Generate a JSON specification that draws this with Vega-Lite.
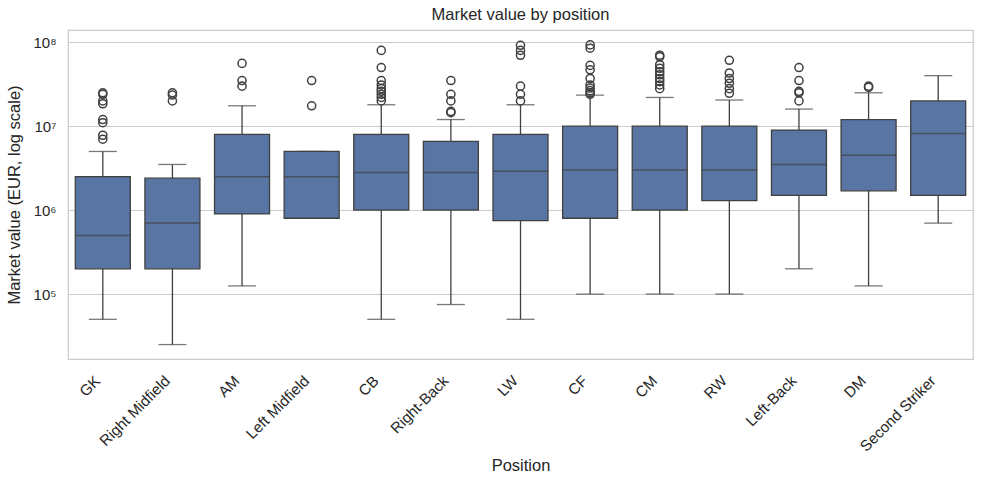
{
  "$schema": "https://vega.github.io/schema/vega-lite/v6.json",
  "autosize": {"type": "none"},
  "padding": {"left": 68, "top": 30, "right": 11, "bottom": 125},
  "width": 905,
  "height": 329,
  "title": {
    "text": "Market value by position",
    "fontSize": 16.5,
    "fontWeight": "normal",
    "color": "#262626",
    "offset": 7
  },
  "datasets": {
    "stats": [
      {"position": "GK", "lower": 50000, "q1": 200000, "median": 500000, "q3": 2500000, "upper": 5000000},
      {"position": "Right Midfield", "lower": 25000, "q1": 200000, "median": 700000, "q3": 2400000, "upper": 3500000},
      {"position": "AM", "lower": 125000, "q1": 900000, "median": 2500000, "q3": 8000000, "upper": 17500000},
      {"position": "Left Midfield", "lower": 800000, "q1": 800000, "median": 2500000, "q3": 5000000, "upper": 5000000},
      {"position": "CB", "lower": 50000, "q1": 1000000, "median": 2800000, "q3": 8000000, "upper": 18000000},
      {"position": "Right-Back", "lower": 75000, "q1": 1000000, "median": 2800000, "q3": 6600000, "upper": 12000000},
      {"position": "LW", "lower": 50000, "q1": 750000, "median": 2900000, "q3": 8000000, "upper": 18000000},
      {"position": "CF", "lower": 100000, "q1": 800000, "median": 3000000, "q3": 10000000, "upper": 23500000},
      {"position": "CM", "lower": 100000, "q1": 1000000, "median": 3000000, "q3": 10000000, "upper": 22000000},
      {"position": "RW", "lower": 100000, "q1": 1300000, "median": 3000000, "q3": 10000000, "upper": 20500000},
      {"position": "Left-Back", "lower": 200000, "q1": 1500000, "median": 3500000, "q3": 9000000, "upper": 16000000},
      {"position": "DM", "lower": 125000, "q1": 1700000, "median": 4500000, "q3": 12000000, "upper": 25000000},
      {"position": "Second Striker", "lower": 700000, "q1": 1500000, "median": 8200000, "q3": 20000000, "upper": 40000000}
    ],
    "outliers": [
      {"position": "GK", "value": 25000000},
      {"position": "GK", "value": 24000000},
      {"position": "GK", "value": 20000000},
      {"position": "GK", "value": 18500000},
      {"position": "GK", "value": 12000000},
      {"position": "GK", "value": 11000000},
      {"position": "GK", "value": 7800000},
      {"position": "GK", "value": 7000000},
      {"position": "Right Midfield", "value": 25000000},
      {"position": "Right Midfield", "value": 23500000},
      {"position": "Right Midfield", "value": 20000000},
      {"position": "AM", "value": 56000000},
      {"position": "AM", "value": 35000000},
      {"position": "AM", "value": 30000000},
      {"position": "Left Midfield", "value": 35000000},
      {"position": "Left Midfield", "value": 17500000},
      {"position": "CB", "value": 80000000},
      {"position": "CB", "value": 50000000},
      {"position": "CB", "value": 35000000},
      {"position": "CB", "value": 31000000},
      {"position": "CB", "value": 28000000},
      {"position": "CB", "value": 26000000},
      {"position": "CB", "value": 24000000},
      {"position": "CB", "value": 22000000},
      {"position": "CB", "value": 20000000},
      {"position": "Right-Back", "value": 35000000},
      {"position": "Right-Back", "value": 24000000},
      {"position": "Right-Back", "value": 20000000},
      {"position": "Right-Back", "value": 15000000},
      {"position": "Right-Back", "value": 14500000},
      {"position": "LW", "value": 92000000},
      {"position": "LW", "value": 80000000},
      {"position": "LW", "value": 70000000},
      {"position": "LW", "value": 30000000},
      {"position": "LW", "value": 24000000},
      {"position": "LW", "value": 20000000},
      {"position": "CF", "value": 93000000},
      {"position": "CF", "value": 85000000},
      {"position": "CF", "value": 53000000},
      {"position": "CF", "value": 47000000},
      {"position": "CF", "value": 37000000},
      {"position": "CF", "value": 31000000},
      {"position": "CF", "value": 28500000},
      {"position": "CF", "value": 26500000},
      {"position": "CF", "value": 25000000},
      {"position": "CF", "value": 24000000},
      {"position": "CM", "value": 70000000},
      {"position": "CM", "value": 67000000},
      {"position": "CM", "value": 54000000},
      {"position": "CM", "value": 49000000},
      {"position": "CM", "value": 44500000},
      {"position": "CM", "value": 41000000},
      {"position": "CM", "value": 37000000},
      {"position": "CM", "value": 34000000},
      {"position": "CM", "value": 31000000},
      {"position": "CM", "value": 28000000},
      {"position": "RW", "value": 61000000},
      {"position": "RW", "value": 43000000},
      {"position": "RW", "value": 37000000},
      {"position": "RW", "value": 32500000},
      {"position": "RW", "value": 28000000},
      {"position": "RW", "value": 24700000},
      {"position": "Left-Back", "value": 50000000},
      {"position": "Left-Back", "value": 35000000},
      {"position": "Left-Back", "value": 26000000},
      {"position": "Left-Back", "value": 25000000},
      {"position": "Left-Back", "value": 20000000},
      {"position": "DM", "value": 30000000},
      {"position": "DM", "value": 29000000}
    ]
  },
  "encoding": {
    "x": {
      "field": "position",
      "type": "nominal",
      "sort": ["GK", "Right Midfield", "AM", "Left Midfield", "CB", "Right-Back", "LW", "CF", "CM", "RW", "Left-Back", "DM", "Second Striker"],
      "scale": {"paddingInner": 0, "paddingOuter": 0},
      "axis": {
        "title": "Position",
        "labelAngle": -45,
        "labelAlign": "right",
        "labelBaseline": "top",
        "labelPadding": 14,
        "labelOffset": -10,
        "labelFontSize": 15.2,
        "titlePadding": 3,
        "grid": false,
        "ticks": false,
        "domain": false
      }
    }
  },
  "layer": [
    {
      "data": {"name": "stats"},
      "mark": {"type": "rule", "color": "#404040", "strokeWidth": 1.3},
      "encoding": {
        "y": {
          "field": "lower",
          "type": "quantitative",
          "scale": {"type": "log", "domain": [16830, 140000000], "nice": false},
          "axis": {
            "title": "Market value (EUR, log scale)",
            "values": [100000, 1000000, 10000000, 100000000],
            "labelExpr": "'10' + ['⁰','¹','²','³','⁴','⁵','⁶','⁷','⁸','⁹'][round(log(datum.value) / LN10)]",
            "grid": true,
            "ticks": false,
            "domain": false,
            "labelPadding": 12,
            "titlePadding": 10
          }
        },
        "y2": {"field": "upper"}
      }
    },
    {
      "data": {"name": "stats"},
      "mark": {"type": "tick", "color": "#404040", "size": 28, "thickness": 1.3},
      "encoding": {"y": {"field": "lower", "type": "quantitative"}}
    },
    {
      "data": {"name": "stats"},
      "mark": {"type": "tick", "color": "#404040", "size": 28, "thickness": 1.3},
      "encoding": {"y": {"field": "upper", "type": "quantitative"}}
    },
    {
      "data": {"name": "stats"},
      "mark": {"type": "bar", "size": 55, "fill": "#5975a4", "stroke": "#404040", "strokeWidth": 1.3},
      "encoding": {
        "y": {"field": "q1", "type": "quantitative"},
        "y2": {"field": "q3"}
      }
    },
    {
      "data": {"name": "stats"},
      "mark": {"type": "tick", "color": "#404040", "size": 55, "thickness": 1.5},
      "encoding": {"y": {"field": "median", "type": "quantitative"}}
    },
    {
      "data": {"name": "outliers"},
      "mark": {"type": "point", "shape": "circle", "filled": false, "stroke": "#404040", "strokeWidth": 1.5, "size": 66, "opacity": 1},
      "encoding": {"y": {"field": "value", "type": "quantitative"}}
    }
  ],
  "config": {
    "font": "Liberation Sans",
    "view": {"stroke": "#cccccc", "strokeWidth": 1.25},
    "axis": {
      "labelFontSize": 15,
      "titleFontSize": 16.5,
      "titleFontWeight": "normal",
      "labelColor": "#262626",
      "titleColor": "#262626",
      "gridColor": "#cccccc",
      "gridWidth": 1
    }
  }
}
